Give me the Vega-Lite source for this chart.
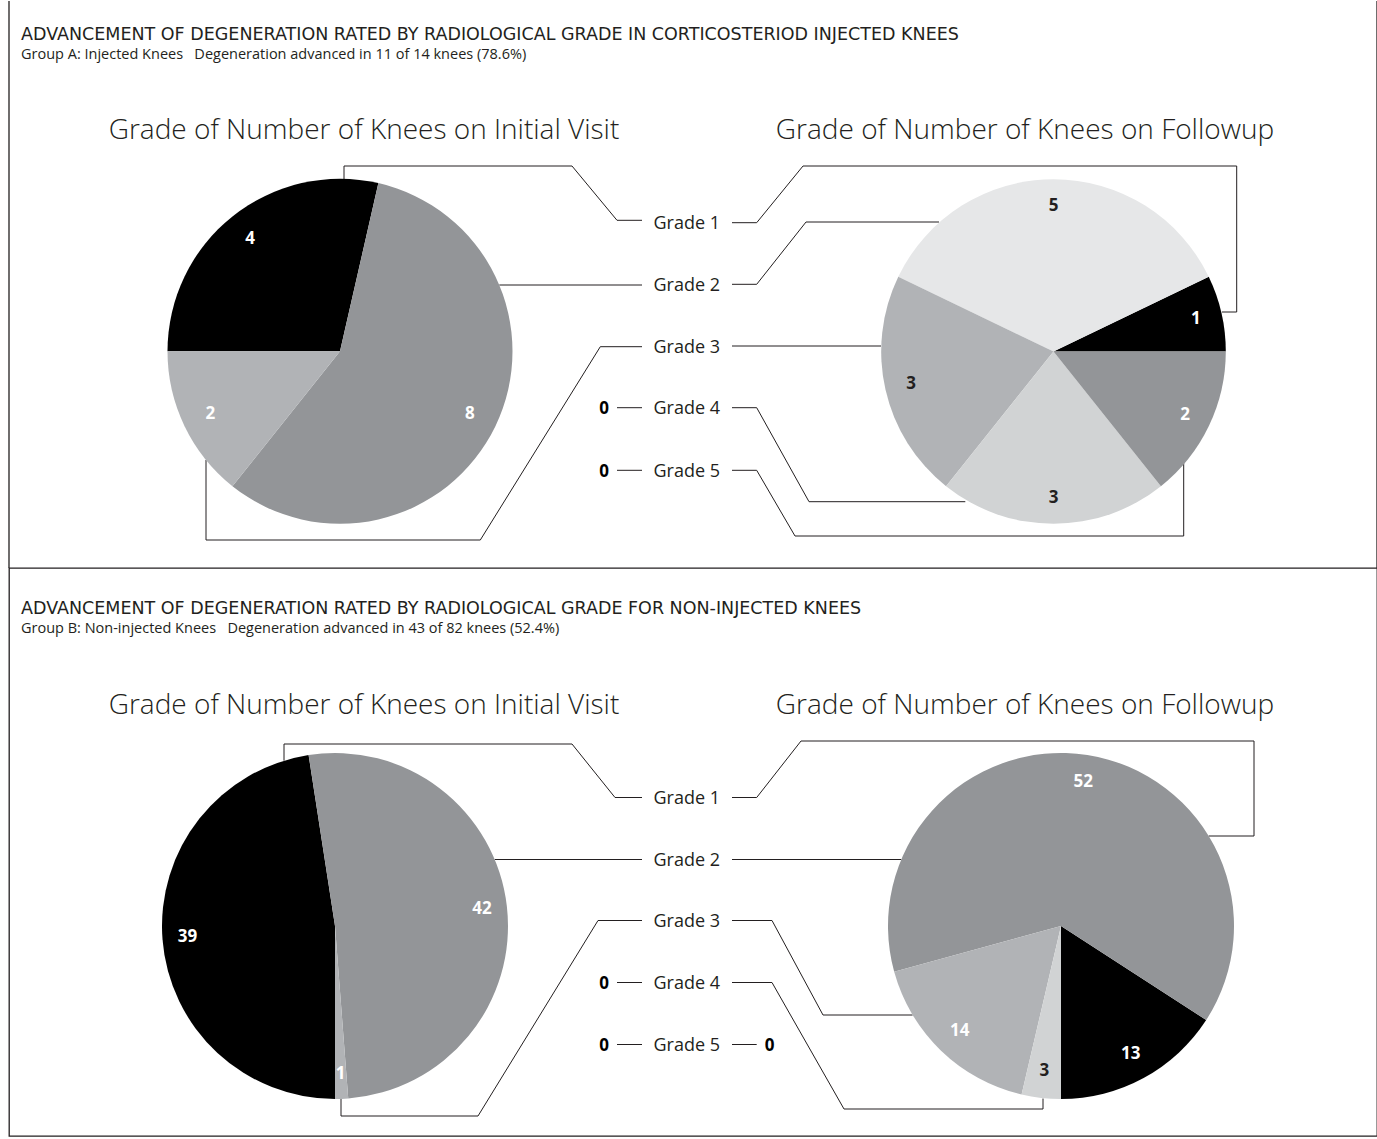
{
  "$schema": "https://vega.github.io/schema/vega-lite/v6.json",
  "padding": {"left": 8, "top": 0, "right": 0, "bottom": 0},
  "spacing": 0,
  "bounds": "flush",
  "background": "white",
  "config": {
    "view": {"stroke": "#231f20", "strokeWidth": 1.3},
    "font": "Open Sans",
    "title": {"font": "DejaVu Sans", "color": "#231f20", "subtitleColor": "#231f20", "subtitleFont": "Open Sans"}
  },
  "datasets": {
    "counts": [
      {"panel": "A", "visit": "Initial Visit", "grade": "Grade 1", "n": 4, "xs": [633, 608, 563, 335, 335], "ys": [219.3, 219.3, 165, 165, 178.5]},
      {"panel": "A", "visit": "Initial Visit", "grade": "Grade 2", "n": 8, "xs": [633, 490.3], "ys": [284, 284]},
      {"panel": "A", "visit": "Initial Visit", "grade": "Grade 3", "n": 2, "xs": [633, 591.3, 471.3, 197, 197], "ys": [345.7, 345.7, 539, 539, 459]},
      {"panel": "A", "visit": "Initial Visit", "grade": "Grade 4", "n": 0, "xs": [633, 608], "ys": [406.7, 406.7]},
      {"panel": "A", "visit": "Initial Visit", "grade": "Grade 5", "n": 0, "xs": [633, 608], "ys": [469.3, 469.3]},
      {"panel": "A", "visit": "Followup", "grade": "Grade 1", "n": 1, "xs": [723, 747.7, 794, 1227.7, 1227.7, 1213], "ys": [221.7, 221.7, 165, 165, 311, 311]},
      {"panel": "A", "visit": "Followup", "grade": "Grade 2", "n": 5, "xs": [723, 747.7, 797, 930], "ys": [283.3, 283.3, 221, 221]},
      {"panel": "A", "visit": "Followup", "grade": "Grade 3", "n": 3, "xs": [723, 872], "ys": [345, 345]},
      {"panel": "A", "visit": "Followup", "grade": "Grade 4", "n": 3, "xs": [723, 747.7, 800, 956.3], "ys": [406.7, 406.7, 500.7, 500.7]},
      {"panel": "A", "visit": "Followup", "grade": "Grade 5", "n": 2, "xs": [723, 747.7, 786, 1174.7, 1174.7], "ys": [469.3, 469.3, 535, 535, 462]},
      {"panel": "B", "visit": "Initial Visit", "grade": "Grade 1", "n": 39, "xs": [633, 606, 563, 275, 275], "ys": [229.5, 229.5, 176, 176, 192.7]},
      {"panel": "B", "visit": "Initial Visit", "grade": "Grade 2", "n": 42, "xs": [633, 485.7], "ys": [291.5, 291.5]},
      {"panel": "B", "visit": "Initial Visit", "grade": "Grade 3", "n": 1, "xs": [633, 589, 469, 332, 332], "ys": [352.5, 352.5, 548, 548, 531]},
      {"panel": "B", "visit": "Initial Visit", "grade": "Grade 4", "n": 0, "xs": [633, 608], "ys": [414.5, 414.5]},
      {"panel": "B", "visit": "Initial Visit", "grade": "Grade 5", "n": 0, "xs": [633, 608], "ys": [476.5, 476.5]},
      {"panel": "B", "visit": "Followup", "grade": "Grade 1", "n": 13, "xs": [723, 747.7, 792, 1245, 1245, 1199.7], "ys": [229.5, 229.5, 173, 173, 268, 268]},
      {"panel": "B", "visit": "Followup", "grade": "Grade 2", "n": 52, "xs": [723, 892.3], "ys": [291.5, 291.5]},
      {"panel": "B", "visit": "Followup", "grade": "Grade 3", "n": 14, "xs": [723, 763, 814, 903.6], "ys": [352.5, 352.5, 447, 447]},
      {"panel": "B", "visit": "Followup", "grade": "Grade 4", "n": 3, "xs": [723, 763, 835, 1034, 1034], "ys": [414.5, 414.5, 541, 541, 530.5]},
      {"panel": "B", "visit": "Followup", "grade": "Grade 5", "n": 0, "xs": [723, 747.7], "ys": [476.5, 476.5]}
    ]
  },
  "vconcat": [
    {
      "width": 1368,
      "height": 567,
      "view": {"stroke": null},
      "title": {
        "text": "ADVANCEMENT OF DEGENERATION RATED BY RADIOLOGICAL GRADE IN CORTICOSTERIOD INJECTED KNEES",
        "subtitle": "Group A: Injected Knees\u00a0\u00a0 Degeneration advanced in 11 of 14 knees (78.6%)",
        "anchor": "start", "frame": "group", "orient": "top",
        "offset": -61, "dx": 12,
        "fontSize": 17.5, "fontWeight": "normal",
        "subtitleFontSize": 14.5, "subtitlePadding": 4
      },
      "data": {"name": "counts"},
      "resolve": {"scale": {"theta": "independent", "fill": "independent", "color": "independent"}},
      "layer": [
        {
          "data": {"values": [{}]},
          "mark": {"type": "rule", "stroke": "#231f20", "strokeWidth": 1.3},
          "encoding": {"x": {"datum": 0, "type": "quantitative", "scale": {"domain": [0, 1368], "nice": false, "zero": false}, "axis": null}}
        },
        {
          "data": {"values": [{}]},
          "mark": {"type": "rule", "stroke": "#231f20", "strokeWidth": 1.3},
          "encoding": {"x": {"datum": 1368, "type": "quantitative", "scale": {"domain": [0, 1368], "nice": false, "zero": false}, "axis": null}}
        },
        {
          "transform": [
            {"filter": "datum.panel == 'A'"},
            {"flatten": ["xs", "ys"], "as": ["lx", "ly"]},
            {"window": [{"op": "row_number", "as": "seq"}], "groupby": ["visit", "grade"]}
          ],
          "mark": {"type": "line", "stroke": "#231f20", "strokeWidth": 1},
          "encoding": {
            "x": {"field": "lx", "type": "quantitative", "scale": {"domain": [0, 1368], "nice": false, "zero": false}, "axis": null},
            "y": {"field": "ly", "type": "quantitative", "scale": {"domain": [0, 567], "nice": false, "zero": false, "reverse": true}, "axis": null},
            "detail": [{"field": "visit"}, {"field": "grade"}],
            "order": {"field": "seq", "type": "quantitative"}
          }
        },
        {
          "transform": [{"filter": "datum.panel == 'A' && datum.visit == 'Followup'"}],
          "mark": {"type": "text", "align": "right", "baseline": "middle", "dx": -12, "dy": 1.5, "font": "Open Sans", "fontSize": 18, "color": "#231f20"},
          "encoding": {
            "x": {"field": "xs[0]", "type": "quantitative", "scale": {"domain": [0, 1368], "nice": false, "zero": false}, "axis": null},
            "y": {"field": "ys[0]", "type": "quantitative", "scale": {"domain": [0, 567], "nice": false, "zero": false, "reverse": true}, "axis": null},
            "text": {"field": "grade"}
          }
        },
        {
          "transform": [{"filter": "datum.panel == 'A' && datum.n == 0 && datum.visit == 'Initial Visit'"}],
          "mark": {"type": "text", "align": "right", "baseline": "middle", "dx": -8, "dy": 1.5, "font": "Open Sans", "fontSize": 17, "fontWeight": "bold", "color": "#000000"},
          "encoding": {
            "x": {"field": "xs[1]", "type": "quantitative", "scale": {"domain": [0, 1368], "nice": false, "zero": false}, "axis": null},
            "y": {"field": "ys[1]", "type": "quantitative", "scale": {"domain": [0, 567], "nice": false, "zero": false, "reverse": true}, "axis": null},
            "text": {"field": "n", "type": "quantitative"}
          }
        },
        {
          "transform": [{"filter": "datum.panel == 'A' && datum.n == 0 && datum.visit == 'Followup'"}],
          "mark": {"type": "text", "align": "left", "baseline": "middle", "dx": 8, "dy": 1.5, "font": "Open Sans", "fontSize": 17, "fontWeight": "bold", "color": "#000000"},
          "encoding": {
            "x": {"field": "xs[1]", "type": "quantitative", "scale": {"domain": [0, 1368], "nice": false, "zero": false}, "axis": null},
            "y": {"field": "ys[1]", "type": "quantitative", "scale": {"domain": [0, 567], "nice": false, "zero": false, "reverse": true}, "axis": null},
            "text": {"field": "n", "type": "quantitative"}
          }
        },
        {
          "transform": [{"filter": "datum.panel == 'A' && datum.visit == 'Initial Visit' && datum.n > 0"}],
          "encoding": {
            "x": {"datum": 331, "type": "quantitative", "scale": {"domain": [0, 1368], "nice": false, "zero": false}, "axis": null},
            "y": {"datum": 350.3, "type": "quantitative", "scale": {"domain": [0, 567], "nice": false, "zero": false, "reverse": true}, "axis": null},
            "theta": {"field": "n", "type": "quantitative", "stack": true, "scale": {"range": [-1.5707963, 4.712389]}},
            "order": {"field": "grade", "type": "ordinal"}
          },
          "layer": [
            {
              "mark": {"type": "arc", "outerRadius": 172.5},
              "encoding": {"fill": {"field": "grade", "type": "nominal", "legend": null, "scale": {"domain": ["Grade 1", "Grade 2", "Grade 3"], "range": ["#000000", "#939598", "#b1b3b6"]}}}
            },
            {
              "mark": {"type": "text", "radius": 144, "baseline": "middle", "font": "Open Sans", "fontSize": 17, "fontWeight": "bold", "color": "#ffffff"},
              "encoding": {"text": {"field": "n", "type": "quantitative"}}
            }
          ]
        },
        {
          "transform": [{"filter": "datum.panel == 'A' && datum.visit == 'Followup' && datum.n > 0"}],
          "encoding": {
            "x": {"datum": 1044.5, "type": "quantitative", "scale": {"domain": [0, 1368], "nice": false, "zero": false}, "axis": null},
            "y": {"datum": 350.5, "type": "quantitative", "scale": {"domain": [0, 567], "nice": false, "zero": false, "reverse": true}, "axis": null},
            "theta": {"field": "n", "type": "quantitative", "stack": true, "scale": {"range": [1.5707963, -4.712389]}},
            "order": {"field": "grade", "type": "ordinal"}
          },
          "layer": [
            {
              "mark": {"type": "arc", "outerRadius": 172.3},
              "encoding": {"fill": {"field": "grade", "type": "nominal", "legend": null, "scale": {"domain": ["Grade 1", "Grade 2", "Grade 3", "Grade 4", "Grade 5"], "range": ["#000000", "#e6e7e8", "#b1b3b6", "#d1d3d4", "#939598"]}}}
            },
            {
              "mark": {"type": "text", "radius": 146, "baseline": "middle", "font": "Open Sans", "fontSize": 17, "fontWeight": "bold"},
              "encoding": {
                "text": {"field": "n", "type": "quantitative"},
                "color": {"field": "grade", "type": "nominal", "legend": null, "scale": {"domain": ["Grade 1", "Grade 2", "Grade 3", "Grade 4", "Grade 5"], "range": ["#ffffff", "#231f20", "#231f20", "#231f20", "#ffffff"]}}
              }
            }
          ]
        },
        {
          "data": {"values": [{"heading": "Grade of Number of Knees on Initial Visit"}]},
          "mark": {"type": "text", "align": "center", "baseline": "middle", "font": "Open Sans", "fontSize": 28, "fontWeight": 300, "color": "#231f20"},
          "encoding": {
            "x": {"datum": 355, "type": "quantitative", "scale": {"domain": [0, 1368], "nice": false, "zero": false}, "axis": null},
            "y": {"datum": 130, "type": "quantitative", "scale": {"domain": [0, 567], "nice": false, "zero": false, "reverse": true}, "axis": null},
            "text": {"field": "heading"}
          }
        },
        {
          "data": {"values": [{"heading": "Grade of Number of Knees on Followup"}]},
          "mark": {"type": "text", "align": "center", "baseline": "middle", "font": "Open Sans", "fontSize": 28, "fontWeight": 300, "color": "#231f20"},
          "encoding": {
            "x": {"datum": 1016, "type": "quantitative", "scale": {"domain": [0, 1368], "nice": false, "zero": false}, "axis": null},
            "y": {"datum": 130, "type": "quantitative", "scale": {"domain": [0, 567], "nice": false, "zero": false, "reverse": true}, "axis": null},
            "text": {"field": "heading"}
          }
        }
      ]
    },
    {
      "width": 1368,
      "height": 568,
      "title": {
        "text": "ADVANCEMENT OF DEGENERATION RATED BY RADIOLOGICAL GRADE FOR NON-INJECTED KNEES",
        "subtitle": "Group B: Non-injected Knees\u00a0\u00a0 Degeneration advanced in 43 of 82 knees (52.4%)",
        "anchor": "start", "frame": "group", "orient": "top",
        "offset": -67, "dx": 12,
        "fontSize": 17.5, "fontWeight": "normal",
        "subtitleFontSize": 14.5, "subtitlePadding": 4
      },
      "data": {"name": "counts"},
      "resolve": {"scale": {"theta": "independent", "fill": "independent", "color": "independent"}},
      "layer": [
        {
          "transform": [
            {"filter": "datum.panel == 'B'"},
            {"flatten": ["xs", "ys"], "as": ["lx", "ly"]},
            {"window": [{"op": "row_number", "as": "seq"}], "groupby": ["visit", "grade"]}
          ],
          "mark": {"type": "line", "stroke": "#231f20", "strokeWidth": 1},
          "encoding": {
            "x": {"field": "lx", "type": "quantitative", "scale": {"domain": [0, 1368], "nice": false, "zero": false}, "axis": null},
            "y": {"field": "ly", "type": "quantitative", "scale": {"domain": [0, 568], "nice": false, "zero": false, "reverse": true}, "axis": null},
            "detail": [{"field": "visit"}, {"field": "grade"}],
            "order": {"field": "seq", "type": "quantitative"}
          }
        },
        {
          "transform": [{"filter": "datum.panel == 'B' && datum.visit == 'Followup'"}],
          "mark": {"type": "text", "align": "right", "baseline": "middle", "dx": -12, "dy": 1.5, "font": "Open Sans", "fontSize": 18, "color": "#231f20"},
          "encoding": {
            "x": {"field": "xs[0]", "type": "quantitative", "scale": {"domain": [0, 1368], "nice": false, "zero": false}, "axis": null},
            "y": {"field": "ys[0]", "type": "quantitative", "scale": {"domain": [0, 568], "nice": false, "zero": false, "reverse": true}, "axis": null},
            "text": {"field": "grade"}
          }
        },
        {
          "transform": [{"filter": "datum.panel == 'B' && datum.n == 0 && datum.visit == 'Initial Visit'"}],
          "mark": {"type": "text", "align": "right", "baseline": "middle", "dx": -8, "dy": 1.5, "font": "Open Sans", "fontSize": 17, "fontWeight": "bold", "color": "#000000"},
          "encoding": {
            "x": {"field": "xs[1]", "type": "quantitative", "scale": {"domain": [0, 1368], "nice": false, "zero": false}, "axis": null},
            "y": {"field": "ys[1]", "type": "quantitative", "scale": {"domain": [0, 568], "nice": false, "zero": false, "reverse": true}, "axis": null},
            "text": {"field": "n", "type": "quantitative"}
          }
        },
        {
          "transform": [{"filter": "datum.panel == 'B' && datum.n == 0 && datum.visit == 'Followup'"}],
          "mark": {"type": "text", "align": "left", "baseline": "middle", "dx": 8, "dy": 1.5, "font": "Open Sans", "fontSize": 17, "fontWeight": "bold", "color": "#000000"},
          "encoding": {
            "x": {"field": "xs[1]", "type": "quantitative", "scale": {"domain": [0, 1368], "nice": false, "zero": false}, "axis": null},
            "y": {"field": "ys[1]", "type": "quantitative", "scale": {"domain": [0, 568], "nice": false, "zero": false, "reverse": true}, "axis": null},
            "text": {"field": "n", "type": "quantitative"}
          }
        },
        {
          "transform": [{"filter": "datum.panel == 'B' && datum.visit == 'Initial Visit' && datum.n > 0"}],
          "encoding": {
            "x": {"datum": 326, "type": "quantitative", "scale": {"domain": [0, 1368], "nice": false, "zero": false}, "axis": null},
            "y": {"datum": 358, "type": "quantitative", "scale": {"domain": [0, 568], "nice": false, "zero": false, "reverse": true}, "axis": null},
            "theta": {"field": "n", "type": "quantitative", "stack": true, "scale": {"range": [3.1415927, 9.424778]}},
            "order": {"field": "grade", "type": "ordinal"}
          },
          "layer": [
            {
              "mark": {"type": "arc", "outerRadius": 173},
              "encoding": {"fill": {"field": "grade", "type": "nominal", "legend": null, "scale": {"domain": ["Grade 1", "Grade 2", "Grade 3"], "range": ["#000000", "#939598", "#b1b3b6"]}}}
            },
            {
              "mark": {"type": "text", "radius": 148, "baseline": "middle", "font": "Open Sans", "fontSize": 17, "fontWeight": "bold", "color": "#ffffff"},
              "encoding": {"text": {"field": "n", "type": "quantitative"}}
            }
          ]
        },
        {
          "transform": [{"filter": "datum.panel == 'B' && datum.visit == 'Followup' && datum.n > 0"}],
          "encoding": {
            "x": {"datum": 1052, "type": "quantitative", "scale": {"domain": [0, 1368], "nice": false, "zero": false}, "axis": null},
            "y": {"datum": 358, "type": "quantitative", "scale": {"domain": [0, 568], "nice": false, "zero": false, "reverse": true}, "axis": null},
            "theta": {"field": "n", "type": "quantitative", "stack": true, "scale": {"range": [3.1415927, -3.1415927]}},
            "order": {"field": "grade", "type": "ordinal"}
          },
          "layer": [
            {
              "mark": {"type": "arc", "outerRadius": 173},
              "encoding": {"fill": {"field": "grade", "type": "nominal", "legend": null, "scale": {"domain": ["Grade 1", "Grade 2", "Grade 3", "Grade 4"], "range": ["#000000", "#939598", "#b1b3b6", "#d1d3d4"]}}}
            },
            {
              "mark": {"type": "text", "radius": 146, "baseline": "middle", "font": "Open Sans", "fontSize": 17, "fontWeight": "bold"},
              "encoding": {
                "text": {"field": "n", "type": "quantitative"},
                "color": {"field": "grade", "type": "nominal", "legend": null, "scale": {"domain": ["Grade 1", "Grade 2", "Grade 3", "Grade 4"], "range": ["#ffffff", "#ffffff", "#ffffff", "#231f20"]}}
              }
            }
          ]
        },
        {
          "data": {"values": [{"heading": "Grade of Number of Knees on Initial Visit"}]},
          "mark": {"type": "text", "align": "center", "baseline": "middle", "font": "Open Sans", "fontSize": 28, "fontWeight": 300, "color": "#231f20"},
          "encoding": {
            "x": {"datum": 355, "type": "quantitative", "scale": {"domain": [0, 1368], "nice": false, "zero": false}, "axis": null},
            "y": {"datum": 138, "type": "quantitative", "scale": {"domain": [0, 568], "nice": false, "zero": false, "reverse": true}, "axis": null},
            "text": {"field": "heading"}
          }
        },
        {
          "data": {"values": [{"heading": "Grade of Number of Knees on Followup"}]},
          "mark": {"type": "text", "align": "center", "baseline": "middle", "font": "Open Sans", "fontSize": 28, "fontWeight": 300, "color": "#231f20"},
          "encoding": {
            "x": {"datum": 1016, "type": "quantitative", "scale": {"domain": [0, 1368], "nice": false, "zero": false}, "axis": null},
            "y": {"datum": 138, "type": "quantitative", "scale": {"domain": [0, 568], "nice": false, "zero": false, "reverse": true}, "axis": null},
            "text": {"field": "heading"}
          }
        }
      ]
    }
  ]
}
